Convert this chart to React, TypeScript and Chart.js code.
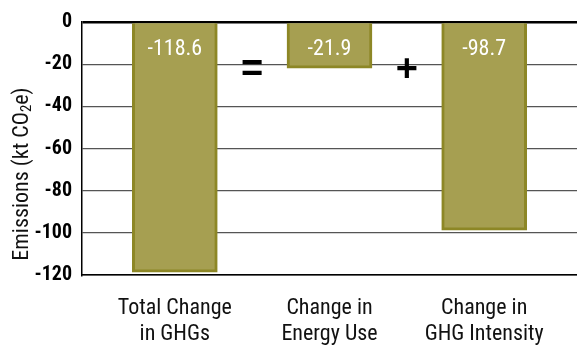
import React, { useEffect, useRef } from "react";
import { Chart, registerables } from "chart.js";

Chart.register(...registerables);

// Decomposition of the change in emissions
const categories: string[][] = [
  ["Total Change", "in GHGs"],
  ["Change in", "Energy Use"],
  ["Change in", "GHG Intensity"],
];
const changes: number[] = [-118.6, -21.9, -98.7];
const valueLabels: string[] = ["-118.6", "-21.9", "-98.7"];
const operators: string[] = ["=", "+"];
const yTicks: number[] = [0, -20, -40, -60, -80, -100, -120];

const FAMILY = "Roboto, 'DejaVu Sans', sans-serif";
const FILL = "#A69F51";
const EDGE = "#8D8726";

const overlayPlugin = {
  id: "overlay",
  afterDatasetsDraw(chart: any) {
    const { ctx, chartArea, scales } = chart;
    const meta = chart.getDatasetMeta(0);
    ctx.save();
    // value labels inside the bars
    ctx.fillStyle = "#ffffff";
    ctx.font = `condensed 22px ${FAMILY}`;
    ctx.textAlign = "center";
    ctx.textBaseline = "middle";
    meta.data.forEach((bar: any, i: number) => {
      ctx.fillText(valueLabels[i], bar.x, chartArea.top + 27);
    });
    // operators between the bars
    ctx.fillStyle = "#000000";
    ctx.font = "bold 38px 'Liberation Sans', Arial, sans-serif";
    operators.forEach((op, i) => {
      const x = scales.x.getPixelForValue(i + 1.5);
      const y = scales.y.getPixelForValue(-23);
      ctx.fillText(op, x, y);
    });
    ctx.restore();
  },
  afterDraw(chart: any) {
    const { ctx, chartArea } = chart;
    // rotated y-axis title with a subscript 2
    ctx.save();
    ctx.translate(22, chartArea.bottom - 101);
    ctx.rotate(-Math.PI / 2);
    ctx.fillStyle = "#111111";
    ctx.textBaseline = "middle";
    const big = `condensed 22px ${FAMILY}`;
    const small = `condensed 15px ${FAMILY}`;
    const parts: [string, string, number][] = [
      ["Emissions (kt CO", big, 0],
      ["2", small, 5],
      ["e)", big, 0],
    ];
    let total = 0;
    parts.forEach(([t, f]) => {
      ctx.font = f;
      total += ctx.measureText(t).width;
    });
    let x = -total / 2;
    ctx.textAlign = "left";
    parts.forEach(([t, f, dy]) => {
      ctx.font = f;
      ctx.fillText(t, x, dy);
      x += ctx.measureText(t).width;
    });
    ctx.restore();
  },
};

export default function App() {
  const canvasRef = useRef<HTMLCanvasElement | null>(null);

  useEffect(() => {
    document.body.style.margin = "0";
    const canvas = canvasRef.current;
    if (!canvas) return;
    const chart = new Chart(canvas, {
      type: "bar",
      data: {
        datasets: [
          {
            data: changes.map((v, i) => ({ x: i + 1, y: v })),
            backgroundColor: FILL,
            borderColor: EDGE,
            borderWidth: 3,
            barThickness: 85,
          },
        ],
      },
      options: {
        animation: false,
        responsive: true,
        maintainAspectRatio: false,
        layout: { padding: { top: 19, right: 0, left: 0, bottom: 0 } },
        plugins: {
          legend: { display: false },
          tooltip: { enabled: false },
        },
        scales: {
          x: {
            type: "linear",
            offset: false,
            min: 0.4,
            max: 3.6,
            afterBuildTicks: (scale: any) => {
              scale.ticks = categories.map((_, i) => ({ value: i + 1 }));
            },
            afterFit: (scale: any) => {
              scale.height = 70;
            },
            grid: { display: false, drawTicks: false, offset: false },
            border: { display: true, color: "#000000", width: 1.5 },
            ticks: {
              autoSkip: false,
              maxRotation: 0,
              padding: 20,
              color: "#111111",
              font: { family: FAMILY, size: 22, weight: "condensed", lineHeight: 1.2 },
              callback: (value: any) => categories[Number(value) - 1] ?? "",
            },
          },
          y: {
            min: -120,
            max: 0,
            afterBuildTicks: (scale: any) => {
              scale.ticks = yTicks.map((v) => ({ value: v }));
            },
            afterFit: (scale: any) => {
              scale.width = 82;
            },
            grid: {
              drawTicks: false,
              color: (c: any) => (c.tick && (c.tick.value === 0 || c.tick.value === -120) ? "#000000" : "#555555"),
              lineWidth: (c: any) => (c.tick && c.tick.value === 0 ? 2.5 : 1.2),
            },
            border: { display: true, color: "#000000", width: 1.5 },
            ticks: {
              padding: 10,
              color: "#000000",
              font: { family: FAMILY, size: 20, weight: "bold condensed" },
              callback: (value: any) => String(value),
            },
          },
        },
      },
      plugins: [overlayPlugin],
    });
    return () => chart.destroy();
  }, []);

  return (
    <div style={{ position: "absolute", left: 0, top: 0, width: 577, height: 345, background: "#ffffff" }}>
      <canvas ref={canvasRef} />
    </div>
  );
}
